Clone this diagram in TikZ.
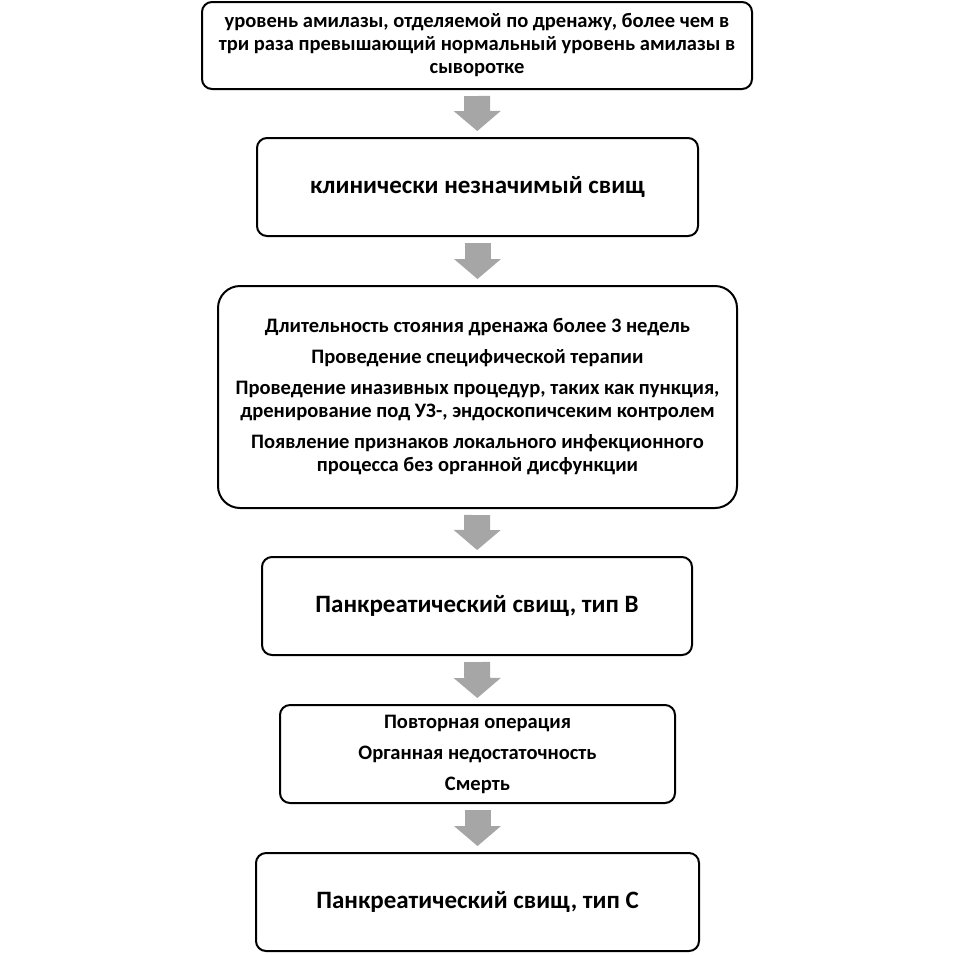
\documentclass[tikz,border=0pt]{standalone}
\usepackage{fontspec}
\setmainfont{Carlito}
\usetikzlibrary{arrows.meta,positioning}
\definecolor{arrowgray}{HTML}{A6A6A6}
\tikzset{%
	box/.style      = {draw, line width=1.5pt, rectangle, rounded corners=7.5pt, inner sep=0pt, align=center, minimum height=73.5pt},
	smalltext/.style= {font=\bfseries\fontsize{15.4}{17.25}\selectfont},
	bigtext/.style  = {font=\bfseries\fontsize{18.75}{22}\selectfont},
	flow/.style     = {line width=19.5pt, draw=arrowgray, -{Triangle[length=15pt,width=35.25pt,line width=0pt]}, shorten <=4.5pt, shorten >=4.5pt},
}
\begin{document}
\begin{tikzpicture}[x=0.75pt,y=-0.75pt]
		\useasboundingbox (0,0) rectangle (955,954);
		\node [box,smalltext,minimum width=412.5pt,minimum height=65.25pt] (amyl) at (477,45.5) {уровень амилазы, отделяемой по дренажу, более чем в\\три раза превышающий нормальный уровень амилазы в\\сыворотке};
		\node [box,bigtext,minimum width=330.75pt] (nonsig) at (477.5,187) {клинически незначимый свищ};
		\node [box,smalltext,minimum width=389.25pt,minimum height=166.5pt,rounded corners=16.5pt] (crit) at (477.5,397) {Длительность стояния дренажа более 3 недель\\[6pt]Проведение специфической терапии\\[6pt]Проведение иназивных процедур, таких как пункция,\\дренирование под УЗ-, эндоскопичсеким контролем\\[6pt]Появление признаков локального инфекционного\\процесса без органной дисфункции};
		\node [box,bigtext,minimum width=322.5pt] (typeb) at (477,606) {Панкреатический свищ, тип В};
		\node [box,smalltext,minimum width=296.25pt] (outc) at (477.5,754) {Повторная операция\\[6pt]Органная недостаточность\\[6pt]Смерть};
		\node [box,bigtext,minimum width=332.25pt] (typec) at (477.5,902) {Панкреатический свищ, тип С};
		
		\draw[flow] (amyl) -- (nonsig);
		\draw[flow] (nonsig) -- (crit);
		\draw[flow] (crit) -- (typeb);
		\draw[flow] (typeb) -- (outc);
		\draw[flow] (outc) -- (typec);
		\end{tikzpicture}
\end{document}
